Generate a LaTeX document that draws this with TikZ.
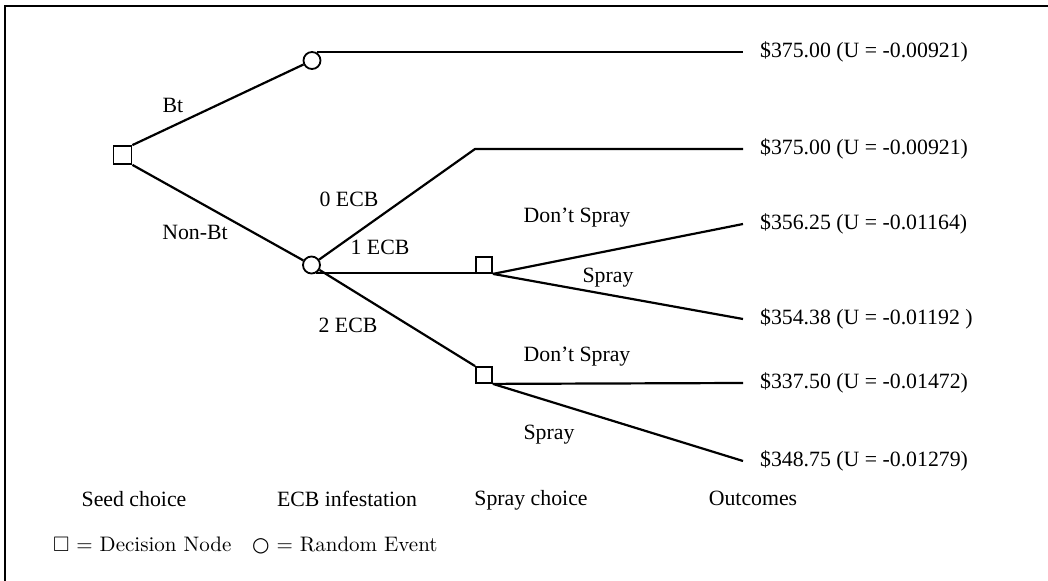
\documentclass[tikz,border=0pt]{standalone}
\usepackage{fontspec}
\usepackage{amssymb}
\newfontfamily\tms{Liberation Serif}
\newfontfamily\djv{DejaVu Sans}
\begin{document}
\begin{tikzpicture}[x=0.5pt,y=-0.5pt,line width=1.1pt,
  dec/.style={draw,rectangle,minimum size=8pt,inner sep=0pt,line width=0.9pt},
  rnd/.style={draw,circle,minimum size=8.5pt,inner sep=0pt,line width=0.9pt},
  lbl/.style={font=\tms\fontsize{10.9}{13}\selectfont,anchor=base,inner sep=0pt},
  outc/.style={font=\tms\fontsize{10.9}{13}\selectfont,anchor=west,inner xsep=8pt,inner ysep=0pt},
  leg/.style={font=\fontsize{10.5}{12}\selectfont,anchor=base west,inner sep=0pt}]
\useasboundingbox (0,0) rectangle (1048,581);
% frame
\coordinate (ftl) at (5,6);
\coordinate (ftr) at (1048,6);
\coordinate (fbl) at (5,581);
\draw[line width=0.9pt] (fbl) -- (ftl) -- (ftr);
% nodes
\node[dec,minimum size=9pt] (s0) at (122.5,155) {};
\node[rnd] (c1) at (312,60.5) {};
\node[rnd] (c2) at (311.5,265) {};
\node[dec] (d1) at (484,265) {};
\node[dec] (d2) at (484,375) {};
\coordinate (k0) at (475,149);
% outcomes
\node[outc] (o1) at (743,52) {\$375.00 (U = -0.00921)};
\node[outc] (o2) at (743,149) {\$375.00 (U = -0.00921)};
\node[outc] (o3) at (743,224) {\$356.25 (U = -0.01164)};
\node[outc] (o4) at (743,319) {\$354.38 (U = -0.01192 )};
\node[outc] (o5) at (743,383) {\$337.50 (U = -0.01472)};
\node[outc] (o6) at (743,461) {\$348.75 (U = -0.01279)};
% connectors
\draw (s0.north east) -- (c1);
\draw (s0.south east) -- (c2);
\draw (c1.60) -- (c1.60 -| o1.west);
\draw (c2) -- (k0) -- (o2.west);
\draw (c2.-60) -- (c2.-60 -| d1.west);
\draw (c2) -- (d2.north west);
\draw (d1.south east) -- (o3.west);
\draw (d1.south east) -- (o4.west);
\draw (d2.south east) -- (o5.west);
\draw (d2.south east) -- (o6.west);
% branch labels
\node[lbl] (lbt) at (173,113) {Bt};
\node[lbl] (lnbt) at (195,240) {Non-Bt};
\node[lbl] (l0) at (349,207) {0 ECB};
\node[lbl] (l1) at (380,255) {1 ECB};
\node[lbl] (l2) at (348,333) {2 ECB};
\node[lbl] (ld1) at (577,223) {Don’t Spray};
\node[lbl] (ls1) at (608,283) {Spray};
\node[lbl] (ld2) at (577,362) {Don’t Spray};
\node[lbl] (ls2) at (549,440) {Spray};
% stage labels
\node[lbl] (h1) at (134,507) {Seed choice};
\node[lbl] (h2) at (347,507) {ECB infestation};
\node[lbl] (h3) at (531,506) {Spray choice};
\node[lbl] (h4) at (753,506) {Outcomes};
% legend
\node[leg] (leg1) at (52,552) {$\square$ = Decision Node};
\node[leg] (leg2) at (251,552) {{\djv\fontsize{10}{12}\selectfont ○} = Random Event};
\end{tikzpicture}
\end{document}
